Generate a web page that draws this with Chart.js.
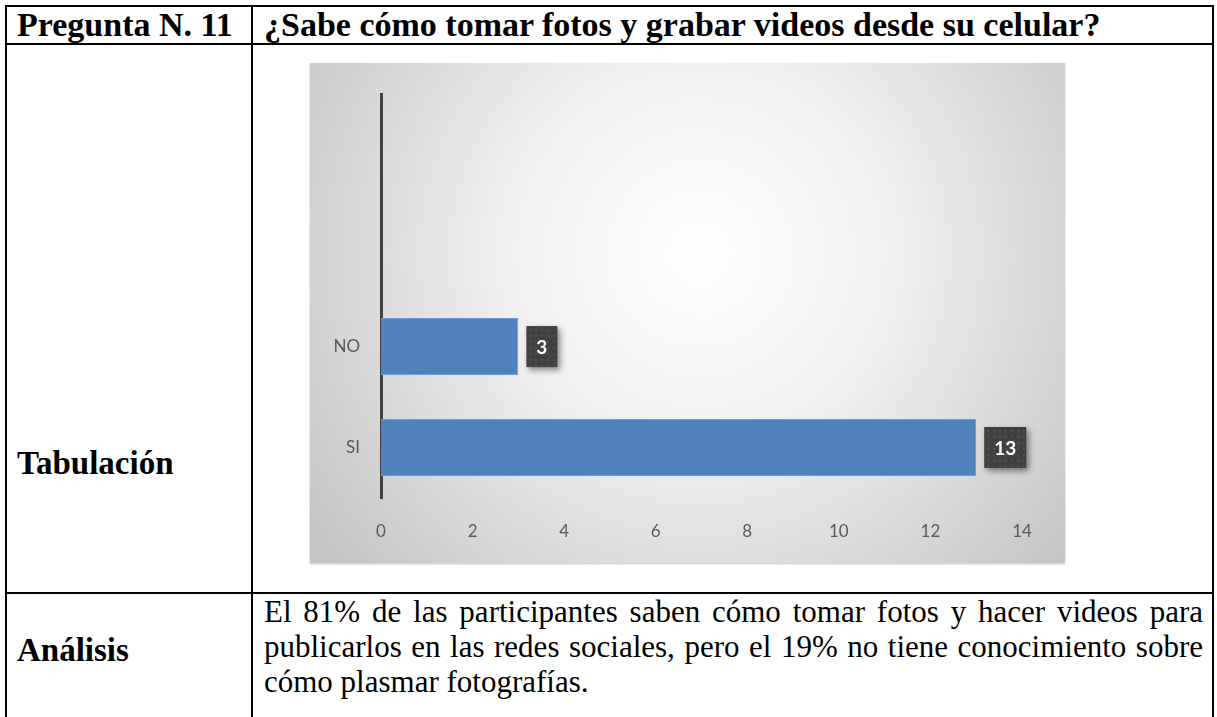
<!DOCTYPE html>
<html lang="es">
<head>
<meta charset="utf-8">
<title>Pregunta N. 11</title>
<script src="https://cdn.jsdelivr.net/npm/chart.js@4.4.1/dist/chart.umd.min.js"></script>
<style>
  html, body { margin: 0; padding: 0; background: #fff; }
  body { width: 1217px; height: 717px; overflow: hidden; position: relative; }
  table {
    position: absolute; left: 5px; top: 5px;
    width: 1209px;
    border-collapse: collapse;
    table-layout: fixed;
    font-family: "Liberation Serif", "Times New Roman", serif;
    color: #000;
  }
  td { border: 2px solid #000; padding: 0; }
  .head td { height: 36px; font-weight: bold; font-size: 34px; line-height: 36px; white-space: nowrap; }
  .c1 { width: 234px; padding-left: 10px; }
  .c2 { padding-left: 11px; }
  .lab { font-weight: bold; font-size: 33px; line-height: 36px; vertical-align: top; }
  .tab { padding-top: 400px; }
  .ana { padding-top: 38px; }
  .chartcell { height: 547px; vertical-align: top; }
  .chartbox {
    position: relative;
    width: 755px; height: 500px;
    margin: 18px 0 0 57px;
    box-shadow: 0 1px 2px rgba(0,0,0,0.25);
  }
  .texto {
    font-size: 31px; line-height: 35px;
    text-align: justify; padding: 0 9px 30px 11px;
    vertical-align: top;
  }
</style>
</head>
<body>
<table>
  <tr class="head">
    <td class="c1">Pregunta N. 11</td>
    <td class="c2">¿Sabe cómo tomar fotos y grabar videos desde su celular?</td>
  </tr>
  <tr>
    <td class="c1 lab tab">Tabulación</td>
    <td class="chartcell"><div class="chartbox"><canvas id="chart"></canvas></div></td>
  </tr>
  <tr>
    <td class="c1 lab ana">Análisis</td>
    <td class="texto">El 81% de las participantes saben cómo tomar fotos y hacer videos para publicarlos en las redes sociales, pero el 19% no tiene conocimiento sobre cómo plasmar fotografías.</td>
  </tr>
</table>

<script>
// categories from bottom to top (Excel order), two empty rows on top
const categories = ["SI", "NO", "", ""]
const respuestas = [13, 3, null, null]
const xTicks = [0, 2, 4, 6, 8, 10, 12, 14]

const chartFont = "Lato, 'Open Sans', sans-serif"

// gray radial background of the chart area
const backgroundPlugin = {
  id: "bg",
  beforeDraw(chart) {
    const { ctx, width, height } = chart
    const g = ctx.createRadialGradient(390, 190, 0, 390, 190, 480)
    g.addColorStop(0, "#ffffff")
    g.addColorStop(0.4, "#f0f0f0")
    g.addColorStop(1, "#c4c4c4")
    ctx.save()
    ctx.fillStyle = g
    ctx.fillRect(0, 0, width, height)
    ctx.restore()
  },
}

// dark boxed data labels beside each bar
const labelPlugin = {
  id: "boxLabels",
  afterDatasetsDraw(chart) {
    const { ctx } = chart
    const meta = chart.getDatasetMeta(0)
    ctx.save()
    ctx.font = "bold 19px " + chartFont
    meta.data.forEach((bar, i) => {
      const v = respuestas[i]
      if (v === null || v === undefined) return
      const txt = String(v)
      const tw = ctx.measureText(txt).width
      const w = tw + 20
      const h = 41
      const x = bar.x + 8
      const y = bar.y - h / 2
      ctx.save()
      ctx.shadowColor = "rgba(0,0,0,0.45)"
      ctx.shadowBlur = 6
      ctx.shadowOffsetX = 3
      ctx.shadowOffsetY = 3
      ctx.fillStyle = "#404040"
      ctx.fillRect(x, y, w, h)
      ctx.restore()
      // dotted texture
      ctx.fillStyle = "#5a5a5a"
      for (let dx = 3; dx < w - 1; dx += 6) {
        for (let dy = 3; dy < h - 1; dy += 6) {
          ctx.fillRect(x + dx, y + dy, 1.5, 1.5)
        }
      }
      ctx.fillStyle = "#ffffff"
      ctx.textAlign = "center"
      ctx.textBaseline = "middle"
      ctx.fillText(txt, x + w / 2, bar.y + 1)
    })
    ctx.restore()
  },
}

new Chart(document.getElementById("chart"), {
  type: "bar",
  data: {
    labels: categories,
    datasets: [
      {
        data: respuestas,
        backgroundColor: "#4f81bd",
        borderColor: "#6f9ad0",
        borderWidth: 1,
        borderSkipped: "start",
        categoryPercentage: 1,
        barPercentage: 0.565,
      },
    ],
  },
  options: {
    indexAxis: "y",
    responsive: true,
    maintainAspectRatio: false,
    animation: false,
    layout: { padding: { left: 0, top: 30, right: 43, bottom: 0 } },
    plugins: {
      legend: { display: false },
      tooltip: { enabled: false },
    },
    scales: {
      x: {
        min: 0,
        max: 14,
        afterBuildTicks: (axis) => {
          axis.ticks = xTicks.map((v) => ({ value: v }))
        },
        grid: { display: false, drawTicks: false },
        border: { display: false },
        ticks: { color: "#595959", font: { family: chartFont, size: 17 }, padding: 23 },
        afterFit: (axis) => { axis.height = 65 },
      },
      y: {
        reverse: true,
        grid: { display: false, drawTicks: false },
        border: { display: true, color: "#404040", width: 3 },
        ticks: { color: "#595959", font: { family: chartFont, size: 17 }, padding: 21 },
        afterFit: (axis) => { axis.width = 71 },
      },
    },
  },
  plugins: [backgroundPlugin, labelPlugin],
})
</script>
</body>
</html>
